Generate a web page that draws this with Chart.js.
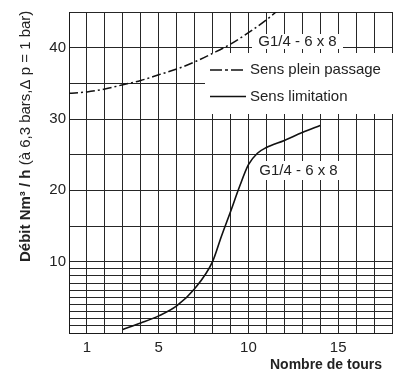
<!DOCTYPE html>
<html><head><meta charset="utf-8">
<script src="https://cdn.jsdelivr.net/npm/chart.js@4/dist/chart.umd.min.js"></script>
<style>html,body{margin:0;padding:0;background:#fff}canvas{display:block}</style>
</head><body>
<canvas id="c" width="398" height="373"></canvas>
<script>
// Data
const pleinX = [0, 1, 2, 3, 4, 5, 6, 7, 8, 9, 10, 11, 12];
const pleinY = [33.6, 33.8, 34.2, 34.8, 35.4, 36.2, 37.0, 38.0, 39.2, 40.5, 42.1, 43.9, 46.0];
const limX = [3, 4, 5, 6, 7, 8, 8.5, 9, 9.5, 10, 10.5, 11, 12, 13, 14];
const limY = [0.5, 1.4, 2.4, 3.8, 6.2, 10, 13.6, 17, 20.5, 23.6, 25.2, 26, 27, 28.1, 29.1];
const xGridValues = [0,1,2,3,4,5,6,7,8,9,10,11,12,13,14,15,16,17,18];
const xTickLabels = [1, 5, 10, 15];
const yGridValues = [0,1,2,3,4,5,6,7,8,9,10,15,20,25,30,35,40,45];
const yTickLabels = [10, 20, 30, 40];
const seriesNames = ['Sens plein passage', 'Sens limitation'];
const productLabel = 'G1/4 - 6 x 8';
const xTitle = 'Nombre de tours';
const yTitleBold = 'Débit Nm³ / h ';
const yTitleNormal = '(à 6,3 bars,Δ p = 1 bar)';

const FONT = '"Liberation Sans", Arial, Helvetica, sans-serif';
const DASHDOT = [9, 3, 2, 3];

const overlay = {
  id: 'overlay',
  beforeDatasetsDraw(chart) {
    const ctx = chart.ctx;
    ctx.save();
    // legend box
    ctx.fillStyle = '#fff';
    ctx.fillRect(205, 53, 188, 61);
    ctx.strokeStyle = '#111';
    ctx.lineWidth = 1.5;
    ctx.setLineDash([12, 3, 3, 3]);
    ctx.beginPath(); ctx.moveTo(210, 70); ctx.lineTo(246, 70); ctx.stroke();
    ctx.setLineDash([]);
    ctx.beginPath(); ctx.moveTo(210, 96.5); ctx.lineTo(246, 96.5); ctx.stroke();
    ctx.fillStyle = '#222';
    ctx.font = '15px ' + FONT;
    ctx.textAlign = 'left';
    ctx.textBaseline = 'middle';
    ctx.fillText(seriesNames[0], 250, 70);
    ctx.fillText(seriesNames[1], 250, 97);
    // product labels
    ctx.fillStyle = '#fff';
    ctx.fillRect(252, 34, 91, 15);
    ctx.fillRect(255, 161, 86, 19);
    ctx.fillStyle = '#222';
    ctx.font = '15px ' + FONT;
    ctx.textAlign = 'center';
    ctx.fillText(productLabel, 297.5, 42);
    ctx.fillText(productLabel, 298.5, 170.5);
    ctx.restore();
  },
  afterDraw(chart) {
    const ctx = chart.ctx;
    ctx.save();
    ctx.fillStyle = '#222';
    ctx.textBaseline = 'middle';
    // x title
    ctx.font = 'bold 14px ' + FONT;
    ctx.textAlign = 'right';
    ctx.fillText(xTitle, 382, 365);
    // y title
    ctx.translate(26, 262);
    ctx.rotate(-Math.PI / 2);
    ctx.textAlign = 'left';
    ctx.font = 'bold 15px ' + FONT;
    ctx.fillText(yTitleBold, 0, 0);
    const w = ctx.measureText(yTitleBold).width;
    ctx.font = '15px ' + FONT;
    ctx.fillText(yTitleNormal, w, 0);
    ctx.restore();
  }
};

new Chart(document.getElementById('c'), {
  type: 'line',
  data: {
    datasets: [
      {
        label: seriesNames[0],
        data: pleinX.map((x, i) => ({x, y: pleinY[i]})),
        borderColor: '#111', borderWidth: 1.5, borderDash: DASHDOT,
        pointRadius: 0, cubicInterpolationMode: 'monotone', fill: false
      },
      {
        label: seriesNames[1],
        data: limX.map((x, i) => ({x, y: limY[i]})),
        borderColor: '#111', borderWidth: 1.6,
        pointRadius: 0, cubicInterpolationMode: 'monotone', fill: false
      }
    ]
  },
  options: {
    responsive: false, animation: false, devicePixelRatio: 1,
    layout: {padding: {top: 7, right: 1, left: 0, bottom: 0}},
    plugins: {legend: {display: false}, tooltip: {enabled: false}},
    scales: {
      x: {
        type: 'linear', min: 0, max: 18,
        afterBuildTicks: a => { a.ticks = xGridValues.map(v => ({value: v})); },
        afterFit: s => { s.height = 40; },
        ticks: {
          autoSkip: false, maxRotation: 0, padding: 6, color: '#222',
          font: {family: FONT, size: 15},
          callback: v => xTickLabels.includes(v) ? String(v) : ''
        },
        grid: {color: '#262626', lineWidth: 1, drawTicks: false},
        border: {display: true, color: '#1a1a1a', width: 1}
      },
      y: {
        type: 'linear', min: 0, max: 45,
        afterBuildTicks: a => { a.ticks = yGridValues.map(v => ({value: v})); },
        afterFit: s => { s.width = 69; },
        ticks: {
          autoSkip: false, padding: 3, color: '#222',
          font: {family: FONT, size: 15},
          callback: v => yTickLabels.includes(v) ? String(v) : ''
        },
        grid: {color: '#262626', lineWidth: 1, drawTicks: false},
        border: {display: true, color: '#1a1a1a', width: 1}
      }
    }
  },
  plugins: [overlay]
});
</script>
</body></html>
